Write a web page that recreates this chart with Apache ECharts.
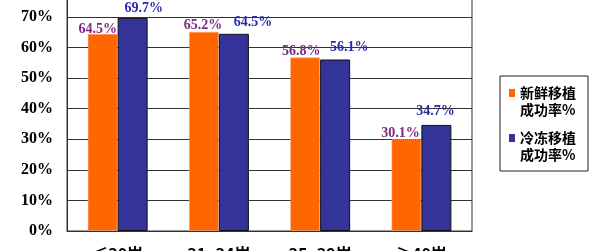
<!DOCTYPE html>
<html><head><meta charset="utf-8">
<script src="https://cdn.jsdelivr.net/npm/echarts@6/dist/echarts.min.js"></script>
<style>html,body{margin:0;padding:0;background:#fff}#c{width:600px;height:251px}</style>
</head><body><div id="c"></div>
<script>
const categories = ['≤30岁', '31~34岁', '35~39岁', '≥40岁'];
const freshRate = [64.5, 65.2, 56.8, 30.1];
const frozenRate = [69.7, 64.5, 56.1, 34.7];
const seriesNames = ['新鲜移植\n成功率%', '冷冻移植\n成功率%'];
const yTicks = [0, 10, 20, 30, 40, 50, 60, 70, 80];

// label offsets (layout only)
const freshOff = [[-5, 3], [-1, 1], [-4, 1], [-6, 1]];
const frozenOff = [[11, -3], [19, -4], [14, -5], [-1, -7]];

const chart = echarts.init(document.getElementById('c'));
const lblFont = { fontFamily: 'Liberation Serif', fontWeight: 'bold', fontSize: 14 };
const legendIcon = 'path://M0,5L6,5L6,13L0,13Z M0,0L6,0 M0,34L6,34';
chart.setOption({
  animation: false,
  grid: { left: 67, right: 128, top: 17 - 30.57, bottom: 20, show: true, borderColor: '#333', borderWidth: 1, backgroundColor: '#fff', containLabel: false, outerBoundsMode: 'none' },
  legend: {
    orient: 'vertical', left: 500, top: 76,
    itemWidth: 6, itemHeight: 34, itemGap: 11,
    padding: [8, 12, 8, 9],
    borderColor: '#222', borderWidth: 1,
    itemStyle: { borderWidth: 0 },
    textStyle: { fontFamily: 'Noto Sans CJK SC', fontWeight: 'bold', fontSize: 14, lineHeight: 17, color: '#000' },
    data: seriesNames.map(n => ({ name: n, icon: legendIcon }))
  },
  xAxis: {
    type: 'category', data: categories,
    axisLine: { lineStyle: { color: '#333', width: 1 } },
    axisTick: { inside: true, length: 4, lineStyle: { color: '#333' } },
    axisLabel: { margin: 15, color: '#000', fontFamily: 'Noto Sans CJK SC', fontWeight: 'bold', fontSize: 16 }
  },
  yAxis: {
    type: 'value', min: yTicks[0], max: yTicks[yTicks.length - 1], interval: 10,
    axisLine: { show: true, lineStyle: { color: '#333' } },
    axisTick: { show: false },
    splitLine: { lineStyle: { color: '#333', width: 1 } },
    axisLabel: { margin: 14, color: '#000', formatter: v => v + '%', fontFamily: 'Liberation Serif', fontWeight: 'bold', fontSize: 16 }
  },
  series: [
    {
      name: seriesNames[0], type: 'bar', barWidth: 30, barGap: '0%',
      itemStyle: { color: '#FF6600', borderColor: '#f4a58a', borderWidth: 1, borderType: 'dotted' },
      data: freshRate.map((v, i) => ({ value: v, label: { offset: freshOff[i] } })),
      label: { show: true, position: 'top', distance: 0, color: '#7a2a7f', ...lblFont, formatter: p => p.value.toFixed(1) + '%' }
    },
    {
      name: seriesNames[1], type: 'bar', barWidth: 30, barGap: '0%',
      itemStyle: { color: '#333399', borderColor: '#111', borderWidth: 1 },
      data: frozenRate.map((v, i) => ({ value: v, label: { offset: frozenOff[i] } })),
      label: { show: true, position: 'top', distance: 0, color: '#2a2aaa', ...lblFont, formatter: p => p.value.toFixed(1) + '%' }
    }
  ]
});
</script></body></html>
